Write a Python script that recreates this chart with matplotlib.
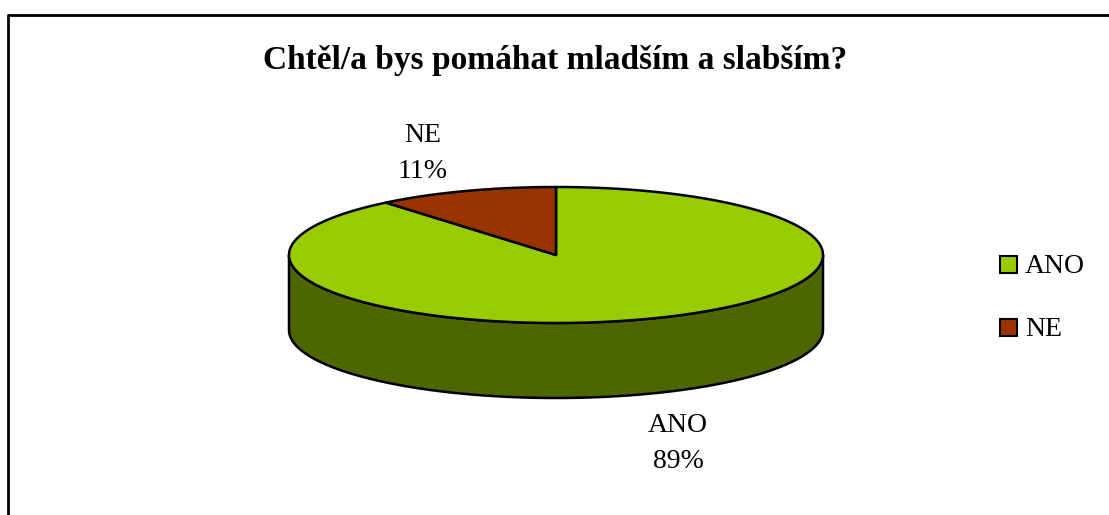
import numpy as np
import matplotlib
matplotlib.use('Agg')
import matplotlib.pyplot as plt
from matplotlib.patches import Polygon, Rectangle

plt.rcParams['font.family'] = ['Liberation Serif', 'DejaVu Serif']

# data
kategorie = ['ANO', 'NE']
hodnoty = [89, 11]
barvy = ['#99CC00', '#993300']
barvy_bok = ['#4D6600', '#4D1A00']
titulek = 'Chtěl/a bys pomáhat mladším a slabším?'

W, H = 1109, 515
fig = plt.figure(figsize=(W / 100, H / 100), dpi=100)
ax = fig.add_axes([0, 0, 1, 1])
ax.set_xlim(0, W)
ax.set_ylim(H, 0)
ax.axis('off')

# ramecek grafu (orezany vpravo a dole)
ax.plot([8, 8, W + 5], [H + 5, 15, 15], color='black', lw=2, solid_capstyle='butt')

# geometrie kolace
cx, cy = 556, 255
a, b = 267, 68
hloubka = 75


def bod(phi, dy=0):
    return cx + a * np.cos(phi), cy - b * np.sin(phi) + dy


# uhly vysecí - NE zacina nahore a jde proti smeru hodin, ANO zbytek
podil = np.array(hodnoty) / sum(hodnoty)
start_ne = np.pi / 2
konec_ne = start_ne + 2 * np.pi * podil[1]
uhly = {'NE': (start_ne, konec_ne), 'ANO': (konec_ne, start_ne + 2 * np.pi)}

# bocni stena (predni polovina)
for i, k in enumerate(kategorie):
    t0, t1 = uhly[k]
    lo = max(t0, np.pi)
    hi = min(t1, 2 * np.pi)
    if hi <= lo:
        continue
    tt = np.linspace(lo, hi, 200)
    pts = np.vstack([np.column_stack(bod(tt)), np.column_stack(bod(tt[::-1], hloubka))])
    ax.add_patch(Polygon(pts, closed=True, facecolor=barvy_bok[i],
                         edgecolor='black', lw=1.8, joinstyle='round'))

# horni plocha
for i, k in enumerate(kategorie):
    t0, t1 = uhly[k]
    tt = np.linspace(t0, t1, 400)
    pts = np.vstack([[cx, cy], np.column_stack(bod(tt))])
    ax.add_patch(Polygon(pts, closed=True, facecolor=barvy[i],
                         edgecolor='black', lw=1.8, joinstyle='round'))

# titulek
ax.text(555, 69, titulek, ha='center', va='baseline', fontsize=24, fontweight='bold')

# popisky dat (baseline)
popisky = {'NE': (423, 142), 'ANO': (678, 432)}
for i, k in enumerate(kategorie):
    x, y = popisky[k]
    ax.text(x, y, k, ha='center', va='baseline', fontsize=20)
    ax.text(x, y + 36, '%d%%' % hodnoty[i], ha='center', va='baseline', fontsize=20)

# legenda
for i, k in enumerate(kategorie):
    y = 273 + i * 62.5
    ax.add_patch(Rectangle((1000, y - 17), 17, 17, facecolor=barvy[i], edgecolor='black', lw=1.5))
    ax.text(1025, y, k, ha='left', va='baseline', fontsize=20)

fig.savefig('out.png', dpi=100)
